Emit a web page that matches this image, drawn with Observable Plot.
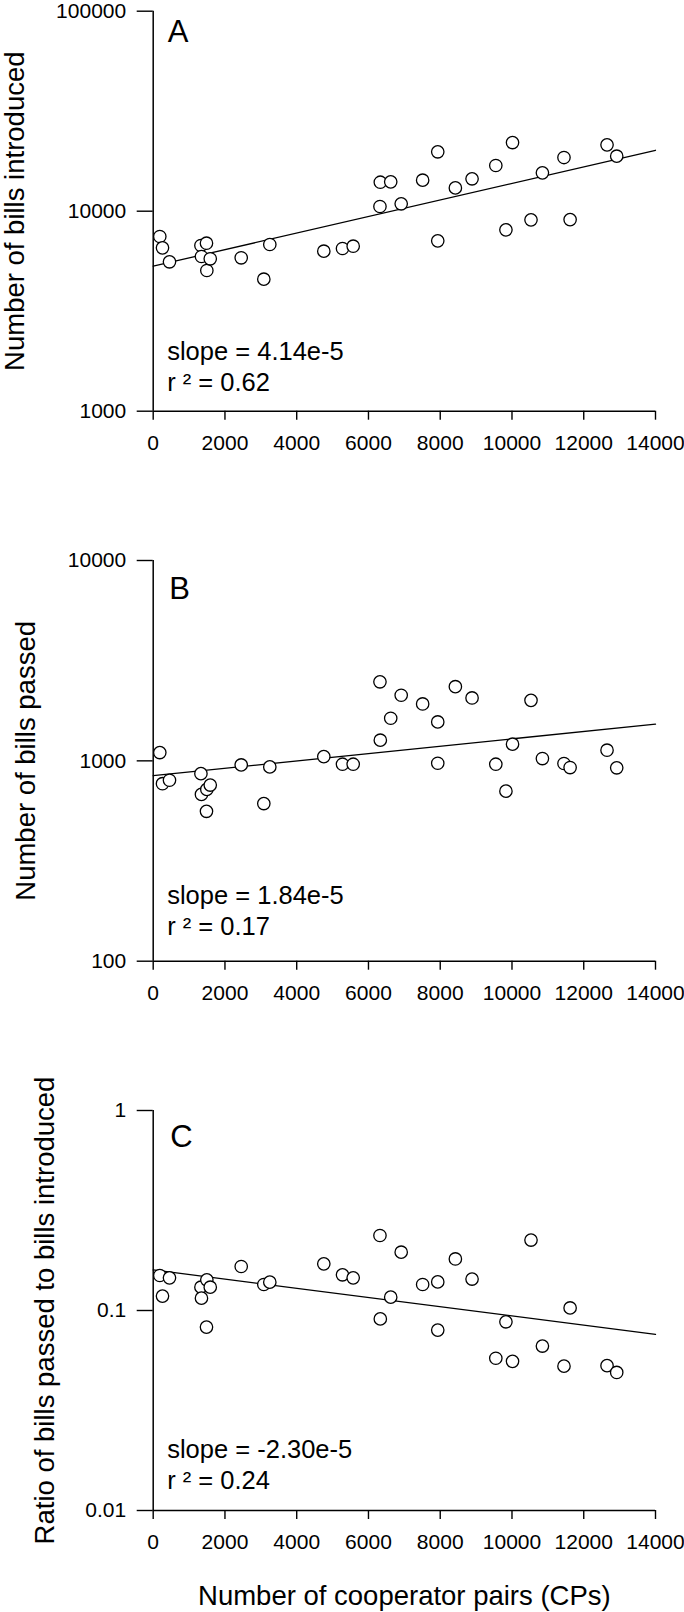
<!DOCTYPE html>
<html>
<head>
<meta charset="utf-8">
<script src="https://cdn.jsdelivr.net/npm/d3@7"></script>
<script src="https://cdn.jsdelivr.net/npm/@observablehq/plot@0.6"></script>
<style>
  html, body { margin: 0; padding: 0; background: white; }
  #chart svg { display: block; }
</style>
</head>
<body>
<div id="chart"></div>
<script>
// ---- data ----
const cps = [184, 259, 454, 1330, 1345, 1495, 1485, 1590, 2453, 3083, 3250, 4755, 5276, 5574,
  6320, 6330, 6620, 6912, 7510, 7931, 7931, 8422, 8887, 9549, 9831, 10015, 10530, 10848,
  11449, 11620, 12649, 12919];
const billsIntroduced = [7472, 6557, 5584, 6739, 5935, 5052, 6918, 5781, 5848, 4571, 6816, 6310,
  6509, 6683, 10556, 13960, 14020, 10889, 14290, 19810, 7110, 13080, 14520, 16920, 8070, 22040,
  9050, 15550, 18550, 9080, 21460, 18840];
const billsPassed = [1100, 769, 800, 863, 680, 720, 560, 757, 954, 612, 933, 1050, 962, 962,
  2480, 1268, 1632, 2125, 1923, 1564, 973, 2345, 2060, 962, 706, 1211, 2004, 1027, 970, 926,
  1130, 923];
const passRatio = [0.1496, 0.118, 0.1456, 0.1308, 0.1153, 0.1423, 0.0826, 0.1308, 0.166, 0.1349,
  0.1386, 0.1711, 0.1508, 0.1456, 0.2371, 0.0908, 0.1166, 0.1957, 0.1349, 0.0798, 0.139, 0.181,
  0.1436, 0.0577, 0.0878, 0.0557, 0.225, 0.0664, 0.0527, 0.103, 0.053, 0.049];

const xTicks = [0, 2000, 4000, 6000, 8000, 10000, 12000, 14000];
const ticksA = [1000, 10000, 100000];
const ticksB = [100, 1000, 10000];
const ticksC = [0.01, 0.1, 1];

// fitted lines: value at x = 0 and log10 slope (from annotations)
const fitA = {y0: 5309, slope: 4.14e-5};
const fitB = {y0: 843, slope: 1.84e-5};
const fitC = {y0: 0.1596, slope: -2.30e-5};

const panelLetters = ["A", "B", "C"];
const yTitles = ["Number of bills introduced", "Number of bills passed", "Ratio of bills passed to bills introduced"];
const slopeTexts = ["slope = 4.14e-5", "slope = 1.84e-5", "slope = -2.30e-5"];
const r2Texts = ["r \u00B2 = 0.62", "r \u00B2 = 0.17", "r \u00B2 = 0.24"];
const xTitle = "Number of cooperator pairs (CPs)";

// ---- drawing ----
const FONT = "'Liberation Sans', Arial, sans-serif";
const W = 684, ML = 152.7, MR = 29;

function panel(cfg) {
  const data = cps.map((x, i) => ({x, y: cfg.values[i]}));
  const xDom = [xTicks[0], xTicks[xTicks.length - 1]];
  const fitPts = xDom.map(x => ({x, y: cfg.fit.y0 * Math.pow(10, cfg.fit.slope * x)}));
  const marks = [
    Plot.axisY({ticks: cfg.ticks, tickSize: 16, tickPadding: 11, fontSize: 21,
      tickFormat: d => String(d), label: null, strokeWidth: 1.4}),
    Plot.axisX({ticks: xTicks, tickSize: 9, tickPadding: 15, fontSize: 21,
      tickFormat: d => String(d), label: null, strokeWidth: 1.4}),
    Plot.ruleX([0], {stroke: "black", strokeWidth: 1.5}),
    Plot.ruleY([cfg.ticks[0]], {stroke: "black", strokeWidth: 1.5}),
    Plot.line(fitPts, {x: "x", y: "y", stroke: "black", strokeWidth: 1.3}),
    Plot.dot(data, {x: "x", y: "y", r: 6.2, fill: "white", stroke: "black", strokeWidth: 1.3}),
    Plot.text([cfg.letter], {frameAnchor: "top-left", lineAnchor: "bottom", textAnchor: "start",
      dx: cfg.letterDx, dy: cfg.letterDy, fontSize: 31, fill: "black"}),
    Plot.text([cfg.slope], {frameAnchor: "top-left", lineAnchor: "bottom", textAnchor: "start",
      dx: 14, dy: cfg.slopeDy, fontSize: 25.5, fill: "black"}),
    Plot.text([cfg.r2], {frameAnchor: "top-left", lineAnchor: "bottom", textAnchor: "start",
      dx: 14, dy: cfg.slopeDy + 31, fontSize: 25.5, fill: "black"}),
    Plot.text([cfg.yTitle], {frameAnchor: "left", lineAnchor: "bottom", textAnchor: "middle",
      rotate: -90, dx: cfg.titleX - ML, fontSize: 27.5, fill: "black"})
  ];
  if (cfg.xTitle) {
    marks.push(Plot.text([cfg.xTitle], {frameAnchor: "bottom", lineAnchor: "bottom",
      textAnchor: "middle", dy: 94, fontSize: 27.5, fill: "black"}));
  }
  return Plot.plot({
    width: W, height: cfg.height,
    marginLeft: ML, marginRight: MR, marginTop: cfg.mt, marginBottom: cfg.mb,
    style: {fontFamily: FONT, background: "white", color: "black", overflow: "visible"},
    x: {domain: xDom},
    y: {type: "log", domain: [cfg.ticks[0], cfg.ticks[cfg.ticks.length - 1]]},
    marks
  });
}

const chart = document.getElementById("chart");
chart.appendChild(panel({values: billsIntroduced, ticks: ticksA, fit: fitA, letter: panelLetters[0],
  slope: slopeTexts[0], r2: r2Texts[0], yTitle: yTitles[0], titleX: 23,
  height: 480, mt: 10.7, mb: 69.3, letterDx: 14.5, letterDy: 31, slopeDy: 349}));
chart.appendChild(panel({values: billsPassed, ticks: ticksB, fit: fitB, letter: panelLetters[1],
  slope: slopeTexts[1], r2: r2Texts[1], yTitle: yTitles[1], titleX: 34,
  height: 550, mt: 80, mb: 69.3, letterDx: 16, letterDy: 38, slopeDy: 343}));
chart.appendChild(panel({values: passRatio, ticks: ticksC, fit: fitC, letter: panelLetters[2],
  slope: slopeTexts[2], r2: r2Texts[2], yTitle: yTitles[2], titleX: 53, xTitle,
  height: 582, mt: 80, mb: 102, letterDx: 17, letterDy: 36, slopeDy: 347}));
</script>
</body>
</html>
